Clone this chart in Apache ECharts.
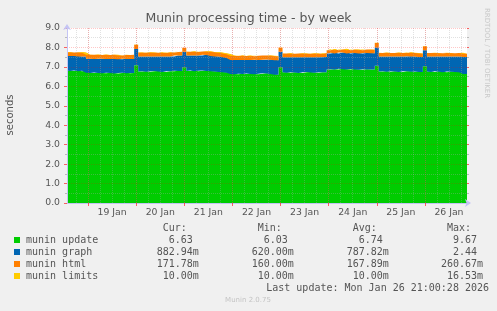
<!DOCTYPE html>
<html><head><meta charset="utf-8">
<script src="https://cdn.jsdelivr.net/npm/echarts@6/dist/echarts.min.js"></script>
<style>html,body{margin:0;padding:0;background:#f0f0f0}#c{width:497px;height:311px}</style>
</head><body><div id="c"></div>
<script>
// ---------- data ----------
const seriesNames = ['munin update', 'munin graph', 'munin html', 'munin limits'];
const seriesColors = ['#00CC00', '#0066B3', '#FF8000', '#FFCC00'];
const startTime = Date.UTC(2026, 0, 18, 13, 0);   // first sample (2 h steps)
const stepHours = 2;
const axisStart = Date.UTC(2026, 0, 18, 13, 30);
const axisEnd = Date.UTC(2026, 0, 26, 21, 0);

const munin_update = [
  6.80, 6.82, 6.79, 6.81, 6.78, 6.80,
  6.70, 6.68, 6.71, 6.69, 6.67, 6.70, 6.68, 6.66, 6.69, 6.70, 6.67, 6.69,
  7.08,
  6.76, 6.78, 6.75, 6.77, 6.79, 6.76, 6.74, 6.77, 6.78, 6.80, 6.79,
  6.98,
  6.79, 6.81, 6.78, 6.80, 6.82, 6.79, 6.77, 6.76, 6.74, 6.72, 6.70,
  6.64, 6.62, 6.65, 6.63, 6.66, 6.64, 6.62, 6.65, 6.67, 6.66, 6.64, 6.60,
  6.98,
  6.72, 6.70, 6.73, 6.71, 6.69, 6.72, 6.74, 6.71, 6.70, 6.72, 6.73,
  6.86, 6.88, 6.87, 6.90, 6.88, 6.86, 6.89, 6.87, 6.85, 6.88, 6.87, 6.86,
  7.06,
  6.76, 6.78, 6.75, 6.77, 6.76, 6.74, 6.77, 6.78, 6.75, 6.76, 6.74,
  7.03,
  6.76, 6.74, 6.77, 6.75, 6.73, 6.76, 6.75, 6.74, 6.72, 6.63
];
const munin_graph = [
  0.76, 0.74, 0.77, 0.75, 0.76, 0.74,
  0.72, 0.74, 0.70, 0.73, 0.75, 0.71, 0.72, 0.74, 0.70, 0.72, 0.73, 0.71,
  0.84,
  0.78, 0.76, 0.79, 0.77, 0.75, 0.78, 0.80, 0.77, 0.76, 0.78, 0.79,
  0.80,
  0.80, 0.78, 0.81, 0.79, 0.80, 0.82, 0.79, 0.78, 0.80, 0.77, 0.76,
  0.72, 0.74, 0.71, 0.73, 0.70, 0.72, 0.75, 0.71, 0.70, 0.72, 0.73, 0.74,
  0.80,
  0.78, 0.80, 0.77, 0.79, 0.81, 0.78, 0.76, 0.79, 0.80, 0.77, 0.78,
  0.83, 0.85, 0.82, 0.84, 0.86, 0.83, 0.82, 0.85, 0.84, 0.83, 0.85, 0.84,
  0.94,
  0.78, 0.76, 0.79, 0.77, 0.78, 0.80, 0.76, 0.77, 0.79, 0.78, 0.77,
  0.82,
  0.77, 0.79, 0.76, 0.78, 0.80, 0.77, 0.78, 0.79, 0.81, 0.88
];
const munin_html = [
  0.19, 0.20, 0.18, 0.19, 0.21, 0.19,
  0.21, 0.20, 0.22, 0.19, 0.21, 0.20, 0.22, 0.21, 0.20, 0.19, 0.21, 0.22,
  0.22,
  0.20, 0.19, 0.21, 0.20, 0.19, 0.20, 0.18, 0.21, 0.20, 0.19, 0.20,
  0.20,
  0.19, 0.20, 0.18, 0.20, 0.19, 0.18, 0.20, 0.21, 0.19, 0.20, 0.19,
  0.21, 0.20, 0.22, 0.20, 0.21, 0.19, 0.20, 0.22, 0.21, 0.20, 0.19, 0.21,
  0.21,
  0.19, 0.20, 0.18, 0.19, 0.20, 0.19, 0.18, 0.20, 0.19, 0.18, 0.20,
  0.17, 0.18, 0.17, 0.16, 0.18, 0.17, 0.18, 0.16, 0.17, 0.18, 0.17, 0.18,
  0.23,
  0.18, 0.19, 0.17, 0.18, 0.19, 0.17, 0.18, 0.19, 0.18, 0.17, 0.18,
  0.21,
  0.18, 0.19, 0.18, 0.17, 0.19, 0.18, 0.17, 0.18, 0.19, 0.17
];
const munin_limits = [
  0.01, 0.01, 0.01, 0.01, 0.01, 0.01,
  0.01, 0.01, 0.01, 0.01, 0.01, 0.01, 0.01, 0.01, 0.01, 0.01, 0.01, 0.01,
  0.0165,
  0.01, 0.01, 0.01, 0.01, 0.01, 0.01, 0.01, 0.01, 0.01, 0.01, 0.01,
  0.01,
  0.01, 0.01, 0.01, 0.01, 0.01, 0.01, 0.01, 0.01, 0.01, 0.01, 0.01,
  0.01, 0.01, 0.01, 0.01, 0.01, 0.01, 0.01, 0.01, 0.01, 0.01, 0.01, 0.01,
  0.01,
  0.01, 0.01, 0.01, 0.01, 0.01, 0.01, 0.01, 0.01, 0.01, 0.01, 0.01,
  0.01, 0.01, 0.01, 0.01, 0.01, 0.01, 0.01, 0.01, 0.01, 0.01, 0.01, 0.01,
  0.01,
  0.01, 0.01, 0.01, 0.01, 0.01, 0.01, 0.01, 0.01, 0.01, 0.01, 0.01,
  0.01,
  0.01, 0.01, 0.01, 0.01, 0.01, 0.01, 0.01, 0.01, 0.01, 0.01
];

const dayLabels = ['19 Jan', '20 Jan', '21 Jan', '22 Jan', '23 Jan', '24 Jan', '25 Jan', '26 Jan'];
const dayNumbers = [19, 20, 21, 22, 23, 24, 25, 26];
const yMin = 0, yMax = 9, yStep = 1;

const statHeaders = ['Cur:', 'Min:', 'Avg:', 'Max:'];
const curStats = ['6.63 ', '882.94m', '171.78m', '10.00m'];
const minStats = ['6.03 ', '620.00m', '160.00m', '10.00m'];
const avgStats = ['6.74 ', '787.82m', '167.89m', '10.00m'];
const maxStats = ['9.67 ', '2.44 ', '260.67m', '16.53m'];
const titleText = 'Munin processing time - by week';
const yName = 'seconds';
const lastUpdate = 'Last update: Mon Jan 26 21:00:28 2026';
const footer = 'Munin 2.0.75';
const sideText = 'RRDTOOL / TOBI OETIKER';

// ---------- build ----------
const H = 3600 * 1000;
const times = munin_update.map((_, i) => startTime + i * stepHours * H);
const seriesValues = [munin_update, munin_graph, munin_html, munin_limits];
const midnights = dayNumbers.map(d => Date.UTC(2026, 0, d));
const noons = dayNumbers.map(d => Date.UTC(2026, 0, d, 12));
const sixHours = [];
for (let t = Date.UTC(2026, 0, 18, 18); t < axisEnd; t += 6 * H) sixHours.push(t);

const FONT = 'DejaVu Sans';
const MONO = 'DejaVu Sans Mono';
const TXT = '#555';

const series = seriesValues.map((vals, s) => ({
  name: seriesNames[s],
  type: 'line',
  xAxisIndex: 0,
  yAxisIndex: 0,
  stack: 'total',
  step: 'start',
  symbol: 'none',
  z: 1,
  color: seriesColors[s],
  lineStyle: { width: 0 },
  areaStyle: { color: seriesColors[s], opacity: 1 },
  data: vals.map((v, i) => [times[i], v])
}));

// legend / stats block
const rowY = [240, 252, 264, 276];
const colX = [156.7, 251.7, 346.7, 441];
const stats = [curStats, minStats, avgStats, maxStats];
const charW = 6.02;
const g = [];
statHeaders.forEach((h, c) => g.push({ type: 'text', x: colX[c] + charW, y: 228,
  style: { text: h, font: '10px ' + MONO, fill: TXT, textVerticalAlign: 'middle' } }));
seriesNames.forEach((n, r) => {
  g.push({ type: 'rect', shape: { x: 14, y: rowY[r] - 3, width: 6, height: 6 }, style: { fill: seriesColors[r] } });
  g.push({ type: 'text', x: 26, y: rowY[r], style: { text: n, font: '10px ' + MONO, fill: TXT, textVerticalAlign: 'middle' } });
  stats.forEach((col, c) => g.push({ type: 'text', x: colX[c], y: rowY[r],
    style: { text: col[r].padStart(7, ' '), font: '10px ' + MONO, fill: TXT, textVerticalAlign: 'middle' } }));
});
g.push({ type: 'text', x: 489, y: 288, style: { text: lastUpdate, font: '10px ' + MONO, fill: TXT, textAlign: 'right', textVerticalAlign: 'middle' } });
g.push({ type: 'text', x: 248, y: 300, style: { text: footer, font: '7px ' + FONT, fill: '#c4c4c4', textAlign: 'center', textVerticalAlign: 'middle' } });
g.push({ type: 'text', x: 487, y: 53, rotation: -Math.PI / 2, style: { text: sideText, font: '7px ' + FONT, fill: '#c8c8c8', textAlign: 'center', textVerticalAlign: 'middle' } });
g.push({ type: 'text', x: 10, y: 115, rotation: Math.PI / 2, style: { text: yName, font: '10px ' + FONT, fill: TXT, textAlign: 'center', textVerticalAlign: 'middle' } });

const majorGrid = { color: 'rgba(255,0,0,0.22)', type: [1, 1], width: 1 };
const minorGrid = { color: 'rgba(170,170,170,0.35)', type: [1, 1], width: 1 };

const chart = echarts.init(document.getElementById('c'), null, { renderer: 'canvas' });
chart.setOption({
  animation: false,
  useUTC: true,
  backgroundColor: '#f0f0f0',
  title: { text: titleText, left: 'center', top: 12, padding: 0,
    textStyle: { fontFamily: FONT, fontSize: 12.5, fontWeight: 'normal', color: TXT } },
  grid: { left: 67, right: 30, top: 28, bottom: 108, show: true, backgroundColor: '#ffffff', borderWidth: 0 },
  xAxis: [
    { type: 'time', position: 'top', min: axisStart, max: axisEnd,
      axisLine: { show: false }, axisTick: { show: false }, axisLabel: { show: false }, splitLine: { show: false } },
    { type: 'value', position: 'bottom', min: axisStart, max: axisEnd, z: 4,
      axisLine: { show: true, lineStyle: { color: '#c4c4f4' }, symbol: ['none', 'arrow'], symbolSize: [6, 6], symbolOffset: [0, 4] },
      axisTick: { show: true, customValues: midnights, length: 3, lineStyle: { color: 'rgba(255,0,0,0.6)' } },
      axisLabel: { customValues: noons, margin: 5, fontFamily: FONT, fontSize: 9.3, color: TXT,
        formatter: v => dayLabels[noons.indexOf(+v)] },
      splitLine: { show: true, lineStyle: majorGrid } },
    { type: 'value', position: 'top', min: axisStart, max: axisEnd, z: 3,
      axisLine: { show: false },
      axisTick: { show: false, customValues: sixHours },
      axisLabel: { show: false },
      splitLine: { show: true, lineStyle: minorGrid } }
  ],
  yAxis: [
    { type: 'value', min: yMin, max: yMax, interval: yStep, z: 4,
      axisLine: { show: true, lineStyle: { color: '#c4c4f4' }, symbol: ['none', 'arrow'], symbolSize: [6, 6], symbolOffset: [0, 4] },
      axisTick: { show: true, length: 3, lineStyle: { color: 'rgba(255,0,0,0.6)' } },
      minorTick: { show: true, splitNumber: 2, length: 2, lineStyle: { color: 'rgba(150,150,150,0.6)' } },
      axisLabel: { margin: 7, fontFamily: FONT, fontSize: 9.3, color: TXT, formatter: v => v.toFixed(1) },
      splitLine: { show: true, lineStyle: majorGrid },
      minorSplitLine: { show: true, lineStyle: minorGrid } },
    { type: 'value', position: 'right', min: yMin, max: yMax, interval: yStep, z: 4,
      axisLine: { show: false },
      axisTick: { show: true, length: 2, lineStyle: { color: 'rgba(255,0,0,0.6)' } },
      minorTick: { show: true, splitNumber: 2, length: 2, lineStyle: { color: 'rgba(150,150,150,0.6)' } },
      axisLabel: { show: false },
      splitLine: { show: false } }
  ],
  graphic: { elements: g },
  series: series
});
</script>
</body></html>
